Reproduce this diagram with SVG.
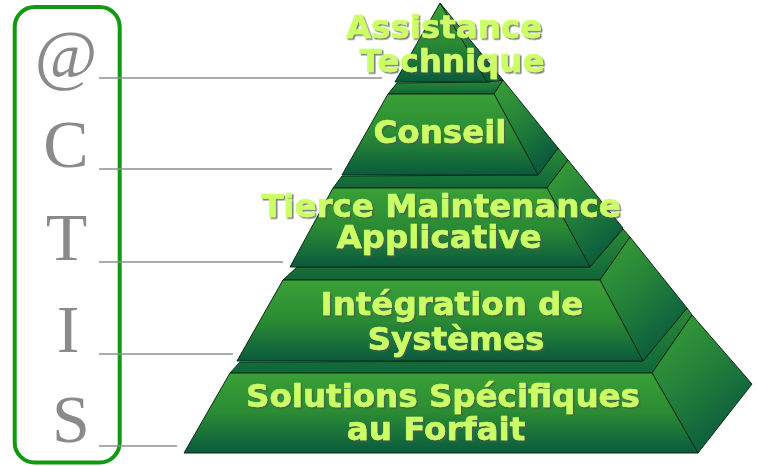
<svg xmlns="http://www.w3.org/2000/svg" width="757" height="466" viewBox="0 0 757 466">
<defs>
<linearGradient id="gFront" x1="0" y1="0" x2="0" y2="1">
<stop offset="0" stop-color="#3aa036"/>
<stop offset="0.5" stop-color="#2a8b33"/>
<stop offset="1" stop-color="#0a5a3e"/>
</linearGradient>
<linearGradient id="gSide" x1="0" y1="0" x2="0.6" y2="1">
<stop offset="0" stop-color="#3aa036"/>
<stop offset="0.5" stop-color="#24823a"/>
<stop offset="1" stop-color="#0a5a3e"/>
</linearGradient>
<linearGradient id="gTop" x1="0" y1="0" x2="0" y2="1">
<stop offset="0" stop-color="#2a8a34"/>
<stop offset="1" stop-color="#0f663a"/>
</linearGradient>
<filter id="shadow" x="-5%" y="-20%" width="110%" height="140%">
<feDropShadow dx="1.6" dy="1.6" stdDeviation="0.4" flood-color="#555555" flood-opacity="0.75"/>
</filter>
<style>
.front{fill:url(#gFront);stroke:#0b2a12;stroke-width:1;stroke-linejoin:round}
.side{fill:url(#gSide);stroke:#0b2a12;stroke-width:1;stroke-linejoin:round}
.top{fill:url(#gTop);stroke:#0b2a12;stroke-width:1;stroke-linejoin:round}
.lbl{font-family:"DejaVu Sans","Noto Sans",sans-serif;font-weight:bold;font-size:32.5px;fill:#ccff66;stroke:#ccff66;stroke-width:0.6;stroke-linejoin:round;text-anchor:middle;filter:url(#shadow)}
.let{font-family:"Liberation Serif","Times New Roman",serif;font-size:68px;fill:#8a8a8a;text-anchor:middle}
.conn line{stroke:#8f8f8f;stroke-width:1.3}
</style>
</defs>

<g id="frame">
<rect x="14.7" y="7" width="105" height="455.5" rx="20" ry="20" fill="none" stroke="#119a11" stroke-width="4"/>
</g>

<g id="letters">
<g id="letter-at"><text class="let" x="66" y="77">@</text></g>
<g id="letter-C"><text class="let" x="66" y="167">C</text></g>
<g id="letter-T"><text class="let" x="66.5" y="260">T</text></g>
<g id="letter-I"><text class="let" x="68" y="352">I</text></g>
<g id="letter-S"><text class="let" x="71" y="442">S</text></g>
</g>

<g id="connectors" class="conn">
<line x1="99" y1="78" x2="382" y2="78"/>
<line x1="99" y1="169" x2="332" y2="169"/>
<line x1="99" y1="262" x2="283" y2="262"/>
<line x1="99" y1="354" x2="233" y2="354"/>
<line x1="99" y1="446" x2="177" y2="446"/>
</g>

<g id="tier-solutions">
<polygon class="top" points="230,373 240,362 643,361 687,308 692,315 652,373"/>
<polygon class="side" points="652,373 692,315 752,384 698,453"/>
<polygon class="front" points="230,373 652,373 698,453 184,453"/>
<text class="lbl" x="443" y="407">Solutions Spécifiques</text>
<text class="lbl" x="436" y="440">au Forfait</text>
</g>

<g id="tier-integration">
<polygon class="top" points="283,280 297,267 590,267 623,229 630,237 600,280"/>
<polygon class="side" points="600,280 630,237 687,308 643,361"/>
<polygon class="front" points="283,280 600,280 643,361 237,361"/>
<text class="lbl" x="452" y="315">Intégration de</text>
<text class="lbl" x="456" y="350">Systèmes</text>
</g>

<g id="tier-tma">
<polygon class="top" points="333,188 342,176 538,175 558,148 568,160 547,188"/>
<polygon class="side" points="547,188 568,160 623,228 590,267"/>
<polygon class="front" points="333,188 547,188 590,267 290,267"/>
<text class="lbl" x="441" y="217">Tierce Maintenance</text>
<text class="lbl" x="439" y="248">Applicative</text>
</g>

<g id="tier-conseil">
<polygon class="top" points="388,94 397,83 487,82 503,80 494,94"/>
<polygon class="side" points="494,94 503,80 558,148 538,175"/>
<polygon class="front" points="388,94 494,94 538,175 342,175"/>
<text class="lbl" x="440" y="143">Conseil</text>
</g>

<g id="tier-assistance">
<polygon class="side" points="440,3 503,80 487,82"/>
<polygon class="front" points="440,3 487,82 395,82"/>
<text class="lbl" x="444" y="38">Assistance</text>
<text class="lbl" x="452" y="72">Technique</text>
</g>
</svg>
